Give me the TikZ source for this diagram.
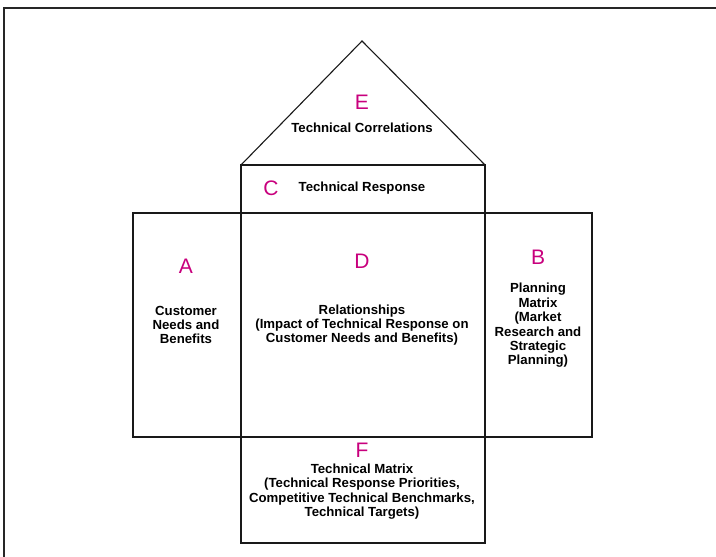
\documentclass[tikz,border=0pt]{standalone}
\usepackage{fontspec}
\setmainfont{Liberation Sans}
\definecolor{letter}{RGB}{200,0,125}
\begin{document}
\begin{tikzpicture}[x=1pt,y=-1pt,
  frame/.style={line width=2.2pt,black!85},
  box/.style={line width=1.1pt,black!90},
  lbl/.style={text=letter,font=\fontsize{21}{22}\selectfont,inner sep=0pt},
  txt/.style={font=\fontsize{13.2}{14.4}\selectfont\bfseries,align=center,inner sep=0pt}]
\useasboundingbox (0,0) rectangle (716,557);
% outer frame (top and left)
\draw[frame] (716,8) -- (4,8) -- (4,557);
% roof
\draw[box] (241,165) -- (362,41) -- (485,165);
% middle column
\draw[box] (241,165) rectangle (485,543);
\draw[box] (241,213) -- (485,213);
\draw[box] (241,437) -- (485,437);
% side wings
\draw[box] (241,213) -- (133,213) -- (133,437) -- (241,437);
\draw[box] (485,213) -- (592,213) -- (592,437) -- (485,437);
% labels
\node[lbl] (E) at (362,102) {E};
\node[txt] (Et) at (362,128) {Technical Correlations};
\node[lbl] (C) at (271,188) {C};
\node[txt] (Ct) at (362,188) {Technical Response};
\node[lbl] (A) at (186,266) {A};
\node[txt] (At) at (186,325) {Customer\\Needs and\\Benefits};
\node[lbl] (D) at (362,261) {D};
\node[txt] (Dt) at (362,325) {Relationships\\(Impact of Technical Response on\\Customer Needs and Benefits)};
\node[lbl] (B) at (538,257) {B};
\node[txt] (Bt) at (538,325.5) {Planning\\Matrix\\(Market\\Research and\\Strategic\\Planning)};
\node[lbl] (F) at (362,450) {F};
\node[txt] (Ft) at (362,491.5) {Technical Matrix\\(Technical Response Priorities,\\Competitive Technical Benchmarks,\\Technical Targets)};
\end{tikzpicture}
\end{document}
